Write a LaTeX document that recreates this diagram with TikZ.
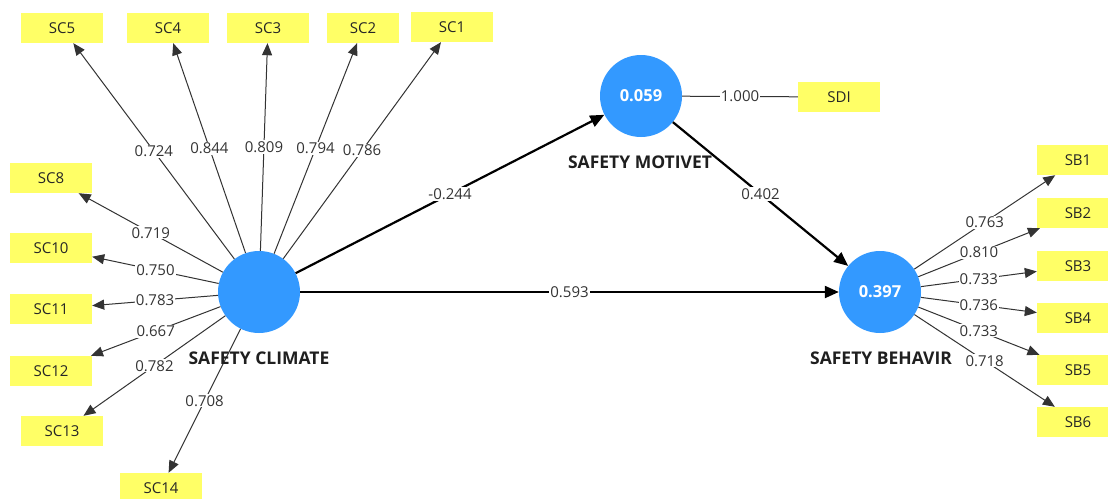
\documentclass[tikz,border=0pt]{standalone}
\usepackage{fontspec}
\setmainfont{Open Sans}
\usetikzlibrary{arrows.meta}
\definecolor{ind}{RGB}{255,255,102}
\definecolor{lat}{RGB}{51,153,255}
\definecolor{txt}{RGB}{52,52,52}
\begin{document}
\begin{tikzpicture}[x=1pt,y=-1pt,
 indbox/.style={fill=ind, minimum width=82pt, minimum height=30pt, inner sep=0pt, font=\fontsize{15}{17}\selectfont, text=black!85},
 latent/.style={circle, fill=lat, minimum size=82pt, inner sep=0pt, font=\fontsize{16.5}{18}\selectfont\bfseries, text=white},
 latname/.style={font=\fontsize{17.5}{20}\selectfont\bfseries, text=black!88},
 loadarrow/.style={draw=black!80, line width=1pt, -{Triangle[length=12pt,width=10pt]}},
 loadline/.style={draw=black!80, line width=1pt},
 structarrow/.style={draw=black, line width=2.2pt, -{Triangle[length=14pt,width=12pt]}},
 val/.style={fill=white, inner sep=1pt, font=\fontsize{15}{17}\selectfont, text=txt},
]
\useasboundingbox (0,0) rectangle (1108,498);
\fill[white] (0,0) rectangle (1108,498);

% latent variables
\node[latent] (SCl) at (259,292) {};
\node[latent] (SMo) at (641,96) {0.059};
\node[latent] (SBe) at (880,292) {0.397};

% indicators of safety climate
\node[indbox] (SC5) at (62,28) {SC5};
\node[indbox] (SC4) at (168,28) {SC4};
\node[indbox] (SC3) at (268,28) {SC3};
\node[indbox, minimum width=72pt] (SC2) at (363,28) {SC2};
\node[indbox] (SC1) at (452,27) {SC1};
\node[indbox] (SC8) at (51,178) {SC8};
\node[indbox] (SC10) at (51,248) {SC10};
\node[indbox] (SC11) at (51,309) {SC11};
\node[indbox] (SC12) at (51,371) {SC12};
\node[indbox] (SC13) at (62,431) {SC13};
\node[indbox] (SC14) at (161,488) {SC14};

% indicator of safety motivation
\node[indbox] (SDI) at (839,97) {SDI};

% indicators of safety behaviour
\node[indbox] (SB1) at (1078,160) {SB1};
\node[indbox] (SB2) at (1078,213) {SB2};
\node[indbox] (SB3) at (1078,266) {SB3};
\node[indbox] (SB4) at (1078,318) {SB4};
\node[indbox] (SB5) at (1078,370) {SB5};
\node[indbox] (SB6) at (1078,422) {SB6};

% loadings
\draw[loadarrow] (SCl) -- node[val]{0.724} (SC5);
\draw[loadarrow] (SCl) -- node[val]{0.844} (SC4);
\draw[loadarrow] (SCl) -- node[val]{0.809} (SC3);
\draw[loadarrow] (SCl) -- node[val]{0.794} (SC2);
\draw[loadarrow] (SCl) -- node[val]{0.786} (SC1);
\draw[loadarrow] (SCl) -- node[val]{0.719} (SC8);
\draw[loadarrow] (SCl) -- node[val]{0.750} (SC10);
\draw[loadarrow] (SCl) -- node[val]{0.783} (SC11);
\draw[loadarrow] (SCl) -- node[val]{0.667} (SC12);
\draw[loadarrow] (SCl) -- node[val]{0.782} (SC13);
\draw[loadarrow] (SCl) -- node[val]{0.708} (SC14);

\draw[loadline] (SMo) -- node[val]{1.000} (SDI);

\draw[loadarrow] (SBe) -- node[val]{0.763} (SB1);
\draw[loadarrow] (SBe) -- node[val]{0.810} (SB2);
\draw[loadarrow] (SBe) -- node[val]{0.733} (SB3);
\draw[loadarrow] (SBe) -- node[val]{0.736} (SB4);
\draw[loadarrow] (SBe) -- node[val]{0.733} (SB5);
\draw[loadarrow] (SBe) -- node[val]{0.718} (SB6);

% latent names
\node[latname] (SClname) at (259,358) {SAFETY CLIMATE};
\node[latname] (SMoname) at (640,162) {SAFETY MOTIVET};
\node[latname] (SBename) at (881,358) {SAFETY BEHAVIR};

% structural paths
\draw[structarrow] (SCl) -- node[val]{-0.244} (SMo);
\draw[structarrow] (SCl) -- node[val]{0.593} (SBe);
\draw[structarrow] (SMo) -- node[val]{0.402} (SBe);
\end{tikzpicture}
\end{document}
